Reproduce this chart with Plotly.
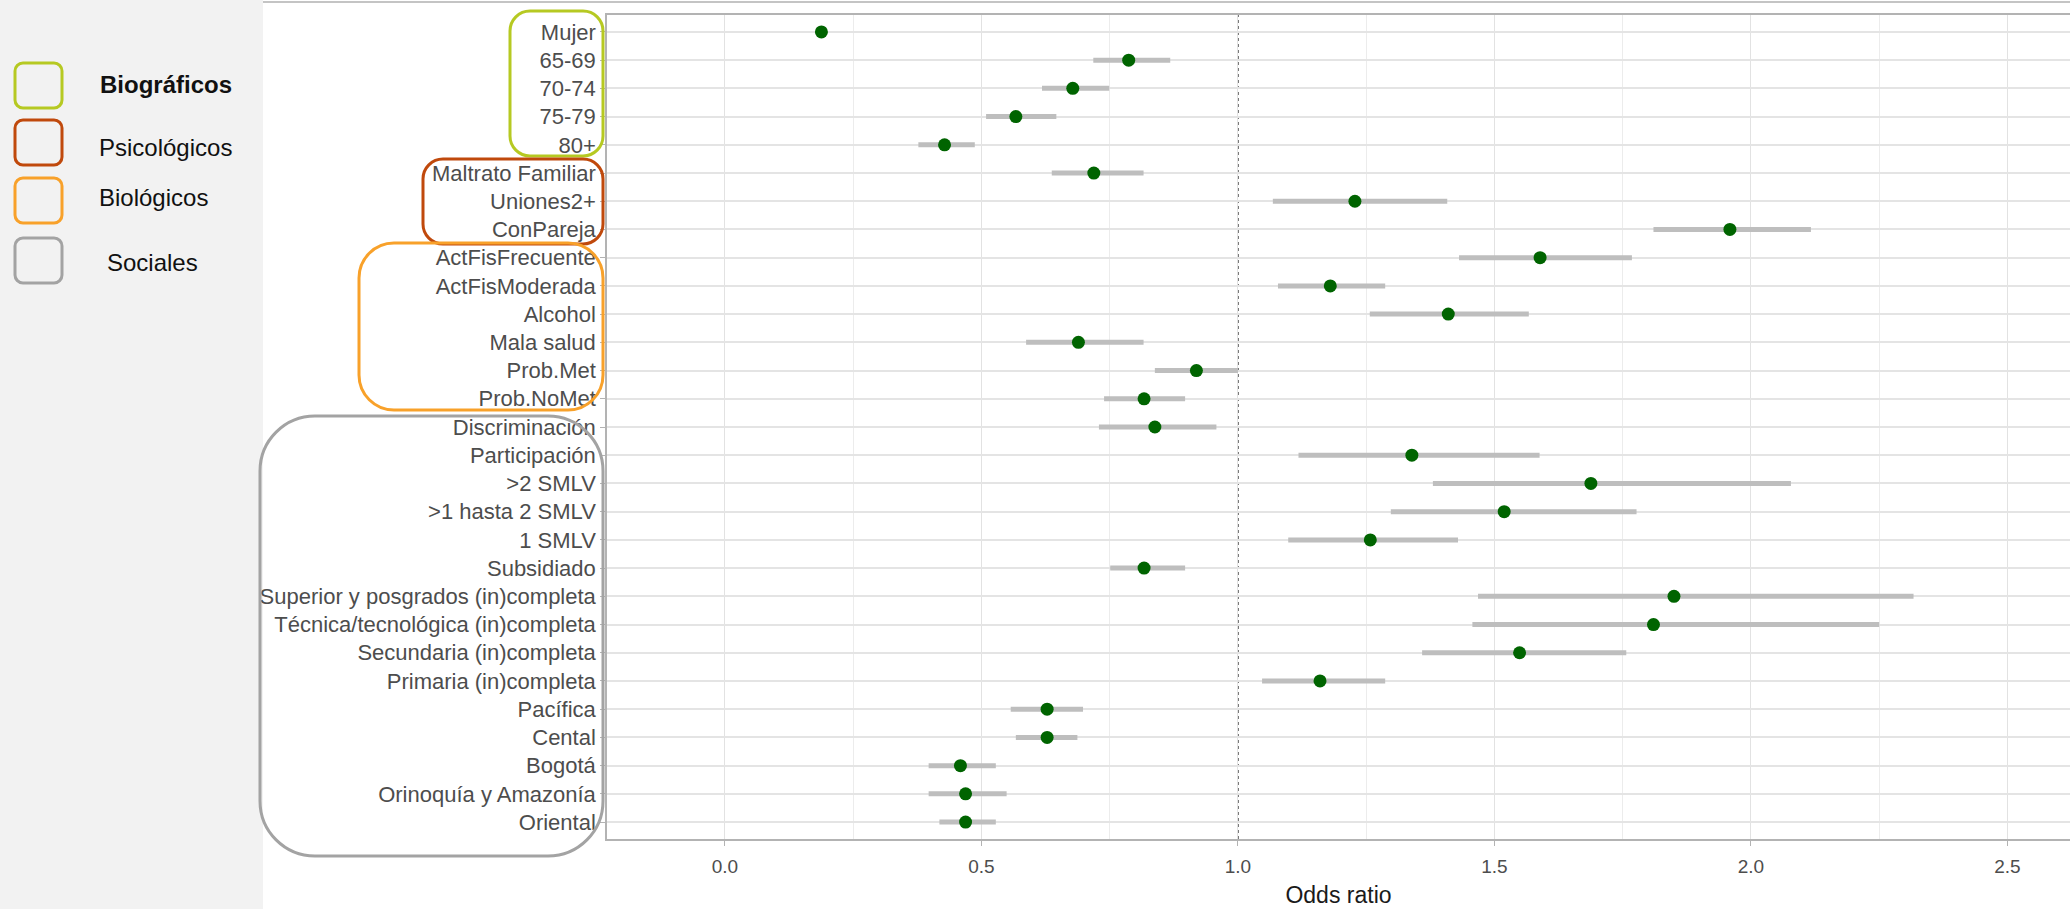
import plotly.graph_objects as go

# ---------------- data ----------------
labels = ["Mujer", "65-69", "70-74", "75-79", "80+",
          "Maltrato Familiar", "Uniones2+", "ConPareja",
          "ActFisFrecuente", "ActFisModerada", "Alcohol", "Mala salud", "Prob.Met", "Prob.NoMet",
          "Discriminación", "Participación", ">2 SMLV", ">1 hasta 2 SMLV", "1 SMLV", "Subsidiado",
          "Superior y posgrados (in)completa", "Técnica/tecnológica (in)completa",
          "Secundaria (in)completa", "Primaria (in)completa",
          "Pacífica", "Cental", "Bogotá", "Orinoquía y Amazonía", "Oriental"]
odds = [0.188, 0.787, 0.678, 0.567, 0.428,
        0.719, 1.228, 1.959,
        1.589, 1.180, 1.410, 0.689, 0.919, 0.817,
        0.838, 1.339, 1.688, 1.519, 1.258, 0.817,
        1.850, 1.810, 1.549, 1.160,
        0.628, 0.628, 0.459, 0.469, 0.469]
low = [0.180, 0.718, 0.618, 0.509, 0.377,
       0.637, 1.068, 1.810,
       1.431, 1.078, 1.257, 0.587, 0.838, 0.739,
       0.729, 1.118, 1.380, 1.298, 1.098, 0.751,
       1.468, 1.457, 1.359, 1.047,
       0.557, 0.567, 0.397, 0.397, 0.418]
high = [0.196, 0.868, 0.749, 0.646, 0.487,
        0.816, 1.408, 2.117,
        1.768, 1.287, 1.567, 0.816, 1.000, 0.897,
        0.958, 1.588, 2.078, 1.777, 1.429, 0.897,
        2.317, 2.250, 1.757, 1.287,
        0.698, 0.687, 0.528, 0.549, 0.528]
x_ticks = [0.0, 0.5, 1.0, 1.5, 2.0, 2.5]
x_ticktext = ["0.0", "0.5", "1.0", "1.5", "2.0", "2.5"]

groups = [  # name, colour, first label, last label
    ("Biográficos", "#b6c922", "Mujer", "80+"),
    ("Psicológicos", "#c0490c", "Maltrato Familiar", "ConPareja"),
    ("Biológicos", "#f8a12a", "ActFisFrecuente", "Prob.NoMet"),
    ("Sociales", "#a3a3a3", "Discriminación", "Oriental"),
]

# ---------------- geometry ----------------
W, H = 2070, 909
L, R, T, B = 607, 0, 15, 70
PW, PH = W - L - R, H - T - B
BOTTOM = H - B


def px(x):
    return (x - L) / PW


def py(y):
    return (BOTTOM - y) / PH


def rounded(x0, y0, x1, y1, r):
    k = 0.5523 * r
    def P(x, y):
        return f"{px(x):.5f},{py(y):.5f}"
    pts = [f"M {P(x0 + r, y0)}",
           f"L {P(x1 - r, y0)}",
           f"C {P(x1 - r + k, y0)} {P(x1, y0 + r - k)} {P(x1, y0 + r)}",
           f"L {P(x1, y1 - r)}",
           f"C {P(x1, y1 - r + k)} {P(x1 - r + k, y1)} {P(x1 - r, y1)}",
           f"L {P(x0 + r, y1)}",
           f"C {P(x0 + r - k, y1)} {P(x0, y1 - r + k)} {P(x0, y1 - r)}",
           f"L {P(x0, y0 + r)}",
           f"C {P(x0, y0 + r - k)} {P(x0 + r - k, y0)} {P(x0 + r, y0)} Z"]
    return " ".join(pts)


# ---------------- traces ----------------
seg_x, seg_y = [], []
for lab, lo, hi in zip(labels, low, high):
    seg_x += [lo, hi, None]
    seg_y += [lab, lab, None]

fig = go.Figure()
fig.add_trace(go.Scatter(x=seg_x, y=seg_y, mode="lines",
                         line=dict(color="#bebebe", width=5),
                         hoverinfo="skip", showlegend=False))
fig.add_trace(go.Scatter(x=odds, y=labels, mode="markers",
                         marker=dict(color="#006400", size=13),
                         showlegend=False))

shapes = []
# left grey panel
shapes.append(dict(type="rect", xref="paper", yref="paper",
                   x0=px(0), x1=px(263), y0=py(H), y1=py(0),
                   fillcolor="#f2f2f2", line=dict(width=0), layer="below"))
# top frame line
shapes.append(dict(type="line", xref="paper", yref="paper",
                   x0=px(263), x1=px(W), y0=py(2), y1=py(2),
                   line=dict(color="#c4c4c4", width=2)))
# reference line at 1
shapes.append(dict(type="line", xref="x", yref="paper", x0=1, x1=1, y0=0, y1=1,
                   line=dict(color="#444444", width=1.5, dash="dot"), layer="below"))

# group boxes around the axis labels (pixel geometry)
group_boxes = [(510, 11, 603, 156, 20), (423, 159, 603, 244, 20),
               (359, 243, 603, 410, 35), (260, 416, 603, 856, 55)]
for (name, col, a, b), (x0, y0, x1, y1, r) in zip(groups, group_boxes):
    shapes.append(dict(type="path", xref="paper", yref="paper",
                       path=rounded(x0, y0, x1, y1, r),
                       line=dict(color=col, width=3)))

# legend boxes
legend_y = [63, 120, 178, 238]
annotations = []
for (name, col, a, b), y0 in zip(groups, legend_y):
    shapes.append(dict(type="path", xref="paper", yref="paper",
                       path=rounded(15, y0, 62, y0 + 45, 8),
                       line=dict(color=col, width=3)))
legend_text_pos = [(98, 84, True), (97, 147, False), (97, 197, False), (105, 262, False)]
for (name, col, a, b), (tx, ty, bold) in zip(groups, legend_text_pos):
    annotations.append(dict(xref="paper", yref="paper", x=px(tx), y=py(ty),
                            xanchor="left", yanchor="middle", showarrow=False,
                            text=f"<b>{name}</b>" if bold else name,
                            font=dict(family="Liberation Sans, Arial", size=24, color="#111111")))

n = len(labels)
fig.update_layout(
    width=W, height=H, autosize=False,
    margin=dict(l=L, r=R, t=T, b=B, pad=0),
    paper_bgcolor="white", plot_bgcolor="white",
    font=dict(family="Liberation Sans, Arial", color="#4d4d4d"),
    shapes=shapes, annotations=annotations,
    xaxis=dict(range=[-0.23, 2.622], tickvals=x_ticks, ticktext=x_ticktext,
               showgrid=True, gridcolor="#e2e2e2", gridwidth=1.3,
               minor=dict(dtick=0.25, tick0=0, showgrid=True, gridcolor="#ececec", gridwidth=1),
               showline=True, linecolor="#b3b3b3", linewidth=1.5, mirror=True,
               ticks="outside", ticklen=5, tickcolor="#b3b3b3", ticklabelstandoff=4,
               tickfont=dict(size=19, color="#4d4d4d"), zeroline=False,
               title=dict(text="Odds ratio", font=dict(size=23, color="#1a1a1a"), standoff=11)),
    yaxis=dict(type="category", categoryorder="array", categoryarray=labels,
               range=[n - 1 + 0.6, -0.6],
               showgrid=True, gridcolor="#e4e4e4", gridwidth=1.8,
               showline=True, linecolor="#b3b3b3", linewidth=1.5,
               ticks="outside", ticklen=5, tickcolor="#b3b3b3",
               tickfont=dict(size=22, color="#4d4d4d"), zeroline=False),
)

fig.write_html("out.html")
